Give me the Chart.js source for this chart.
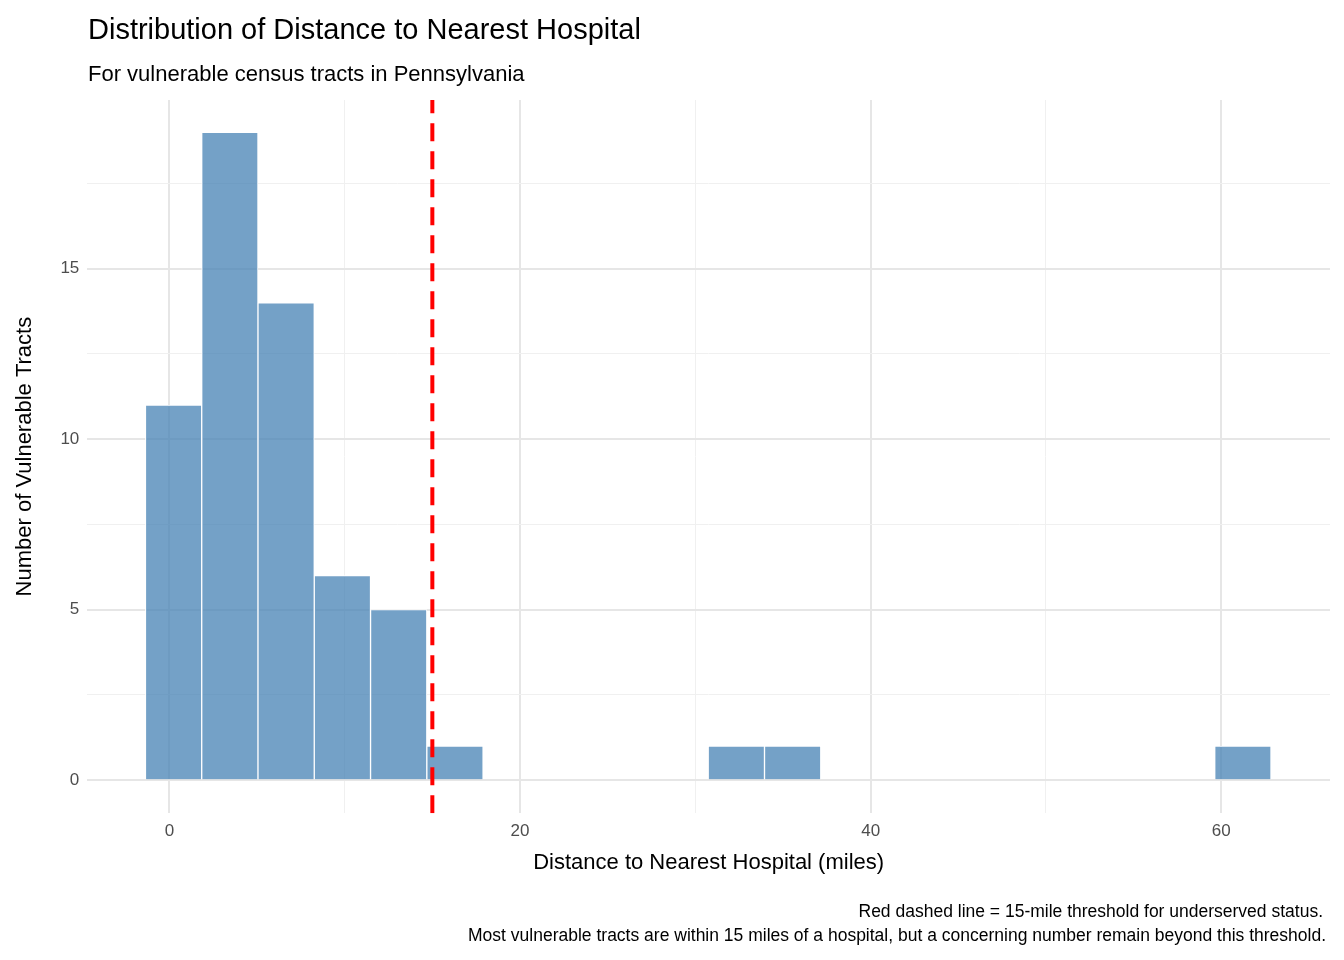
<!DOCTYPE html>
<html>
<head>
<meta charset="utf-8">
<script src="https://cdn.jsdelivr.net/npm/chart.js@4"></script>
<style>
  html, body { margin: 0; padding: 0; background: #fff; }
  #wrap { width: 1344px; height: 960px; }
</style>
</head>
<body>
<div id="wrap"><canvas id="chart" width="1344" height="960"></canvas></div>
<script>
// Histogram bins (centers, miles) and counts
const binCenters = [0.24, 3.45, 6.66, 9.87, 13.08, 16.29, 19.5, 22.71, 25.92, 29.13,
                    32.34, 35.55, 38.76, 41.97, 45.18, 48.39, 51.6, 54.81, 58.02, 61.23];
const tractCounts = [11, 19, 14, 6, 5, 1, 0, 0, 0, 0,
                     1, 1, 0, 0, 0, 0, 0, 0, 0, 1];
const thresholdMiles = 15;
const xTicks = [0, 10, 20, 30, 40, 50, 60];
const yTicks = [0, 2.5, 5, 7.5, 10, 12.5, 15, 17.5];

const FONT = '"Liberation Sans", Arial, sans-serif';
Chart.defaults.font.family = FONT;

const yMin = -0.97, yMax = 19.95;

// Titles and caption drawn relative to the panel
const textPlugin = {
    id: 'texts',
    afterDraw(chart) {
        const ctx = chart.ctx;
        ctx.save();
        ctx.fillStyle = '#000';
        ctx.textBaseline = 'alphabetic';
        ctx.textAlign = 'left';
        ctx.font = '29px ' + FONT;
        ctx.fillText('Distribution of Distance to Nearest Hospital', 88, 39);
        ctx.font = '22px ' + FONT;
        ctx.fillText('For vulnerable census tracts in Pennsylvania', 88, 81);
        ctx.textAlign = 'right';
        ctx.font = '17.5px ' + FONT;
        ctx.fillText('Red dashed line = 15-mile threshold for underserved status.', 1323, 917);
        ctx.fillText('Most vulnerable tracts are within 15 miles of a hospital, but a concerning number remain beyond this threshold.', 1326, 941);
        ctx.restore();
    }
};

new Chart(document.getElementById('chart'), {
    data: {
        datasets: [
            {
                type: 'bar',
                data: binCenters.map((x, i) => ({ x: x, y: tractCounts[i] })),
                backgroundColor: 'rgba(70,130,180,0.75)',
                borderColor: '#ffffff',
                borderWidth: 1,
                barPercentage: 1,
                categoryPercentage: 1,
                order: 2
            },
            {
                type: 'line',
                data: [{ x: thresholdMiles, y: yMin }, { x: thresholdMiles, y: yMax }],
                borderColor: '#ff0000',
                borderWidth: 4,
                borderDash: [18, 10],
                pointRadius: 0,
                order: 1
            }
        ]
    },
    options: {
        responsive: false,
        animation: false,
        layout: { padding: { top: 100, right: 14, bottom: 80, left: 8 } },
        plugins: { legend: { display: false }, tooltip: { enabled: false }, title: { display: false } },
        scales: {
            x: {
                type: 'linear',
                offset: false,
                min: -4.68, max: 66.2,
                border: { display: false },
                afterBuildTicks: s => { s.ticks = xTicks.map(v => ({ value: v })); },
                grid: {
                    offset: false,
                    color: c => (c.tick && c.tick.value % 20 === 0) ? '#e6e6e6' : '#f0f0f0',
                    lineWidth: c => (c.tick && c.tick.value % 20 === 0) ? 2 : 1,
                    drawTicks: false
                },
                ticks: {
                    color: '#4d4d4d', font: { size: 17 }, padding: 8,
                    callback: v => (v % 20 === 0 ? v : '')
                },
                title: { display: true, text: 'Distance to Nearest Hospital (miles)', color: '#000', font: { size: 22 }, padding: { top: 0 } }
            },
            y: {
                min: yMin, max: yMax,
                border: { display: false },
                afterBuildTicks: s => { s.ticks = yTicks.map(v => ({ value: v })); },
                grid: {
                    color: c => (c.tick && c.tick.value % 5 === 0) ? '#e6e6e6' : '#f0f0f0',
                    lineWidth: c => (c.tick && c.tick.value % 5 === 0) ? 2 : 1,
                    drawTicks: false
                },
                ticks: {
                    color: '#4d4d4d', font: { size: 17 }, padding: 8,
                    callback: v => (v % 5 === 0 ? v : '')
                },
                title: { display: true, text: 'Number of Vulnerable Tracts', color: '#000', font: { size: 22 }, padding: { bottom: 14 } }
            }
        }
    },
    plugins: [textPlugin]
});
</script>
</body>
</html>
